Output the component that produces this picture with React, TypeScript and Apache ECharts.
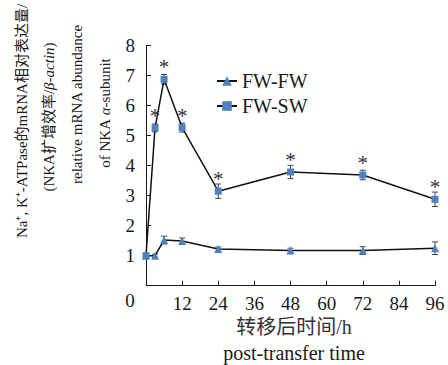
import React, { useEffect, useRef } from "react";
import * as echarts from "echarts";

const times = [0, 3, 6, 12, 24, 48, 72, 96];
const fwfw = [1.0, 1.0, 1.52, 1.49, 1.22, 1.17, 1.17, 1.25];
const fwfwErr = [0, 0.05, 0.13, 0.1, 0.07, 0.08, 0.13, 0.21];
const fwsw = [1.0, 5.26, 6.88, 5.27, 3.15, 3.79, 3.69, 2.88];
const fwswErr = [0, 0.13, 0.16, 0.15, 0.24, 0.22, 0.16, 0.24];
const significant = [false, true, true, true, true, true, true, true];
const seriesNames = ["FW-FW", "FW-SW"];
const xTitle = ["转移后时间/h", "post-transfer time"];
const yTitle: [string, boolean][][] = [
  [["Na⁺, K⁺-ATPase的mRNA相对表达量/", false]],
  [["(NKA扩增效率/", false], ["β-actin", true], [")", false]],
  [["relative mRNA abundance", false]],
  [["of NKA ", false], ["α", true], ["-subunit", false]],
];

const SERIF = "Liberation Serif";
const MIXED = "Liberation Serif, Noto Sans CJK SC";
const BLUE = "#4F81BD";
const INK = "#1a1a1a";

function errData(vals: number[], errs: number[]) {
  return vals
    .map((v, i) => [times[i], v - errs[i], v + errs[i]])
    .filter((_, i) => errs[i] > 0);
}

function errorSeries(vals: number[], errs: number[], z: number) {
  return {
    type: "custom",
    z,
    silent: true,
    data: errData(vals, errs),
    renderItem: (params: any, api: any) => {
      const lo = api.coord([api.value(0), api.value(1)]);
      const hi = api.coord([api.value(0), api.value(2)]);
      const w = 3;
      const style = { stroke: "#444", lineWidth: 1 };
      return {
        type: "group",
        children: [
          { type: "line", shape: { x1: lo[0], y1: lo[1], x2: hi[0], y2: hi[1] }, style },
          { type: "line", shape: { x1: lo[0] - w, y1: lo[1], x2: lo[0] + w, y2: lo[1] }, style },
          { type: "line", shape: { x1: hi[0] - w, y1: hi[1], x2: hi[0] + w, y2: hi[1] }, style },
        ],
      };
    },
  };
}

export default function App() {
  const ref = useRef<HTMLDivElement>(null);
  useEffect(() => {
    document.body.style.margin = "0";
    const chart = echarts.init(ref.current!, null, { renderer: "svg" });

    const ctx = document.createElement("canvas").getContext("2d")!;
    const FS = 15;
    const fontOf = (italic: boolean) =>
      `${italic ? "italic " : ""}${FS}px 'Liberation Serif', 'Noto Sans CJK SC'`;
    const lineXs = [22, 49, 77, 105];
    const lineYs = [121, 117, 104, 113];
    const yTitleGroups = yTitle.map((segs, li) => {
      const widths = segs.map(([t, itl]) => {
        ctx.font = fontOf(itl);
        return ctx.measureText(t).width;
      });
      const total = widths.reduce((a, b) => a + b, 0);
      let cur = -total / 2;
      const children = segs.map(([t, itl], k) => {
        const el = {
          type: "text",
          x: cur,
          y: 0,
          style: {
            text: t,
            fontFamily: itl ? SERIF : MIXED,
            fontSize: FS,
            fontStyle: itl ? "italic" : "normal",
            fill: INK,
            align: "left",
            verticalAlign: "middle",
          },
        };
        cur += widths[k];
        return el;
      });
      return { type: "group", x: lineXs[li], y: lineYs[li], rotation: Math.PI / 2, children };
    });

    chart.setOption({
      animation: false,
      backgroundColor: "#fff",
      grid: { left: 146, right: 13, top: 45.7, bottom: 79.3 },
      xAxis: {
        type: "value",
        min: 0,
        max: 96,
        interval: 12,
        axisLine: { lineStyle: { color: INK, width: 1 } },
        axisTick: { inside: true, length: 5, lineStyle: { color: INK } },
        splitLine: { show: false },
        axisLabel: {
          fontFamily: SERIF,
          fontSize: 19,
          color: INK,
          margin: 8,
          formatter: (v: number) => (v === 0 ? "" : String(v)),
        },
      },
      yAxis: {
        type: "value",
        min: 0,
        max: 8,
        interval: 1,
        axisLine: { show: true, lineStyle: { color: INK, width: 1 } },
        axisTick: { show: true, inside: true, length: 5, lineStyle: { color: INK } },
        splitLine: { show: false },
        axisLabel: {
          fontFamily: SERIF,
          fontSize: 19,
          color: INK,
          margin: 11,
          formatter: (v: number) => (v === 0 ? "" : String(v)),
        },
      },
      legend: {
        orient: "vertical",
        left: 211,
        top: 66,
        itemWidth: 20,
        itemHeight: 12,
        itemGap: 5,
        textStyle: {
          fontFamily: SERIF,
          fontSize: 20,
          color: INK,
          lineHeight: 20,
        },
        data: seriesNames,
      },
      graphic: [
        ...yTitleGroups,
        {
          type: "text",
          x: 130,
          y: 300,
          style: { text: "0", fontFamily: SERIF, fontSize: 19, fill: INK, align: "center", verticalAlign: "middle" },
        },
        {
          type: "text",
          x: 294,
          y: 327,
          style: { text: xTitle[0], fontFamily: MIXED, fontSize: 20, fill: "#333", align: "center", verticalAlign: "middle" },
        },
        {
          type: "text",
          x: 294,
          y: 353,
          style: { text: xTitle[1], fontFamily: SERIF, fontSize: 20, fill: INK, align: "center", verticalAlign: "middle" },
        },
      ],
      series: [
        errorSeries(fwfw, fwfwErr, 1),
        errorSeries(fwsw, fwswErr, 1),
        {
          name: seriesNames[0],
          type: "line",
          z: 3,
          data: fwfw.map((v, i) => [times[i], v]),
          symbol: "triangle",
          symbolSize: 8,
          showAllSymbol: true,
          lineStyle: { color: "#111", width: 1.5 },
          itemStyle: { color: BLUE, borderWidth: 0 },
        },
        {
          name: seriesNames[1],
          type: "line",
          z: 4,
          data: fwsw.map((v, i) => ({ value: [times[i], v], label: { show: significant[i] } })),
          symbol: "rect",
          symbolSize: 7,
          showAllSymbol: true,
          lineStyle: { color: "#111", width: 1.5 },
          itemStyle: { color: BLUE, borderWidth: 0 },
          label: {
            show: false,
            position: "top",
            distance: -2,
            formatter: "*",
            fontFamily: SERIF,
            fontSize: 21,
            color: "#333",
          },
        },
      ],
    });
    return () => chart.dispose();
  }, []);
  return (
    <div
      ref={ref}
      style={{ position: "fixed", left: 0, top: 0, width: 448, height: 365 }}
    />
  );
}
